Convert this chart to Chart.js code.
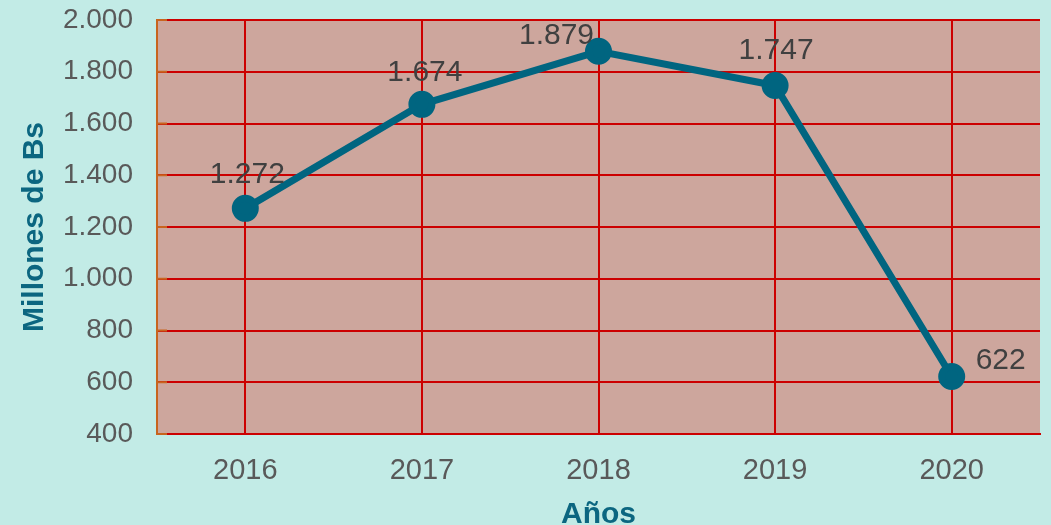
<!DOCTYPE html>
<html>
<head>
<meta charset="utf-8">
<script src="https://cdn.jsdelivr.net/npm/chart.js@4/dist/chart.umd.min.js"></script>
<style>
  html, body { margin: 0; padding: 0; background: #c2ebe6; overflow: hidden; }
  #wrap { width: 1051px; height: 525px; }
  canvas { display: block; }
</style>
</head>
<body>
<div id="wrap"><canvas id="chart"></canvas></div>
<script>
// --- data ---
const years = ['2016', '2017', '2018', '2019', '2020'];
const montos = [1272, 1674, 1879, 1747, 622];
const yTicks = [400, 600, 800, 1000, 1200, 1400, 1600, 1800, 2000];

const fmt = v => String(v).replace(/\B(?=(\d{3})+(?!\d))/g, '.');
const FONT = '"Liberation Sans", Arial, sans-serif';

// plot area fill
const plotBg = {
    id: 'plotBg',
    beforeDraw(chart) {
        const { ctx, chartArea: a } = chart;
        ctx.save();
        ctx.fillStyle = '#cda69d';
        ctx.fillRect(a.left, a.top, a.right - a.left, a.bottom - a.top);
        ctx.restore();
    }
};

// small orange tick marks inside the y axis
const innerTicks = {
    id: 'innerTicks',
    afterDraw(chart) {
        const { ctx, chartArea: a } = chart;
        const y = chart.scales.y;
        ctx.save();
        ctx.strokeStyle = '#c8641e';
        ctx.lineWidth = 2;
        y.ticks.forEach(t => {
            const py = y.getPixelForValue(t.value);
            ctx.beginPath();
            ctx.moveTo(a.left, py);
            ctx.lineTo(a.left + 10, py);
            ctx.stroke();
        });
        ctx.restore();
    }
};

// value labels next to each point
const valueLabels = {
    id: 'valueLabels',
    afterDatasetsDraw(chart) {
        const { ctx } = chart;
        const offs = [[2, -25], [3, -23], [-42, -7], [1, -26], [49, -8]];
        const meta = chart.getDatasetMeta(0);
        ctx.save();
        ctx.font = '30px ' + FONT;
        ctx.fillStyle = '#404040';
        ctx.textAlign = 'center';
        ctx.textBaseline = 'alphabetic';
        meta.data.forEach((pt, i) => {
            ctx.fillText(fmt(montos[i]), pt.x + offs[i][0], pt.y + offs[i][1]);
        });
        ctx.restore();
    }
};

const ctx = document.getElementById('chart').getContext('2d');
new Chart(ctx, {
    type: 'line',
    data: {
        labels: years,
        datasets: [{
            data: montos,
            borderColor: '#006580',
            backgroundColor: '#006580',
            borderWidth: 7,
            pointRadius: 10,
            pointHoverRadius: 10,
            tension: 0
        }]
    },
    options: {
        responsive: true,
        maintainAspectRatio: false,
        animation: false,
        layout: { autoPadding: false, padding: { left: 17, right: 11, top: 20, bottom: 0 } },
        plugins: {
            legend: { display: false },
            tooltip: { enabled: false }
        },
        scales: {
            x: {
                offset: true,
                afterFit: axis => {
                    axis.height = 91;
                    axis.paddingLeft = 0;
                    axis.paddingRight = 0;
                },
                grid: { color: '#cc0000', lineWidth: 2, drawTicks: false },
                border: { color: '#cc0000', width: 2 },
                ticks: {
                    color: '#595959',
                    padding: 20,
                    font: { family: FONT, size: 29 }
                },
                title: {
                    display: true,
                    text: 'Años',
                    color: '#0b6680',
                    padding: 0,
                    font: { family: FONT, size: 30, weight: 'bold', lineHeight: 0.7 }
                }
            },
            y: {
                min: yTicks[0],
                max: yTicks[yTicks.length - 1],
                afterBuildTicks: axis => { axis.ticks = yTicks.map(v => ({ value: v })); },
                afterFit: axis => {
                    axis.width = 140;
                    axis.paddingTop = 0;
                    axis.paddingBottom = 0;
                },
                grid: { color: '#cc0000', lineWidth: 2, drawTicks: false },
                border: { color: '#c8641e', width: 2 },
                ticks: {
                    color: '#595959',
                    padding: 24,
                    callback: v => fmt(v),
                    font: { family: FONT, size: 28 }
                },
                title: {
                    display: true,
                    text: 'Millones de Bs',
                    color: '#0b6680',
                    padding: 0,
                    font: { family: FONT, size: 30, weight: 'bold' }
                }
            }
        }
    },
    plugins: [plotBg, innerTicks, valueLabels]
});
</script>
</body>
</html>
